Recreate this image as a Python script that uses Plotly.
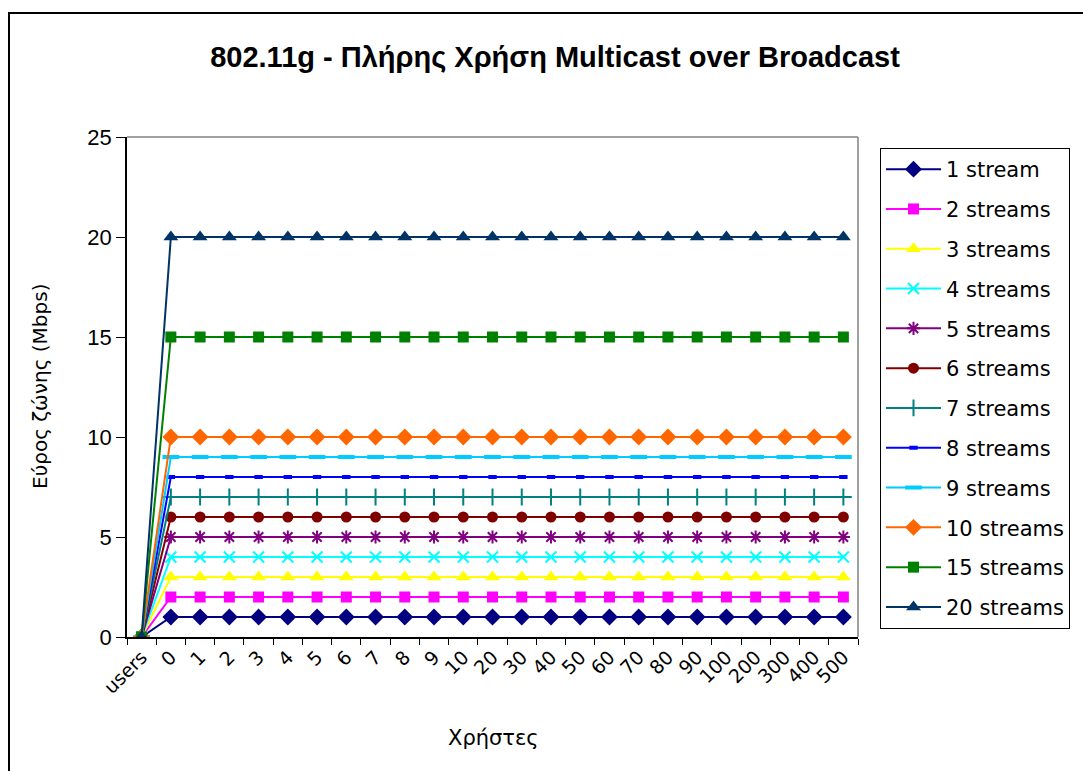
import plotly.graph_objects as go

# Category labels along the x axis (number of users)
categories = ["users", "0", "1", "2", "3", "4", "5", "6", "7", "8", "9", "10",
              "20", "30", "40", "50", "60", "70", "80", "90", "100",
              "200", "300", "400", "500"]

# Bandwidth (Mbps) per series: 0 at the "users" origin, then constant per stream count
series_names = ["1 stream", "2 streams", "3 streams", "4 streams", "5 streams",
                "6 streams", "7 streams", "8 streams", "9 streams", "10 streams",
                "15 streams", "20 streams"]
series_values = {
    "1 stream":   [0] + [1] * 24,
    "2 streams":  [0] + [2] * 24,
    "3 streams":  [0] + [3] * 24,
    "4 streams":  [0] + [4] * 24,
    "5 streams":  [0] + [5] * 24,
    "6 streams":  [0] + [6] * 24,
    "7 streams":  [0] + [7] * 24,
    "8 streams":  [0] + [8] * 24,
    "9 streams":  [0] + [9] * 24,
    "10 streams": [0] + [10] * 24,
    "15 streams": [0] + [15] * 24,
    "20 streams": [0] + [20] * 24,
}

y_ticks = [0, 5, 10, 15, 20, 25]

# Excel-style line colours and marker symbols
styles = {
    "1 stream":   dict(color="#000080", symbol="diamond", size=13),
    "2 streams":  dict(color="#FF00FF", symbol="square", size=11),
    "3 streams":  dict(color="#FFFF00", symbol="triangle-up", size=13),
    "4 streams":  dict(color="#00FFFF", symbol="x-thin-open", size=11),
    "5 streams":  dict(color="#800080", symbol="asterisk-open", size=11),
    "6 streams":  dict(color="#800000", symbol="circle", size=11),
    "7 streams":  dict(color="#008080", symbol="cross-thin-open", size=12),
    "8 streams":  dict(color="#0000FF", symbol="line-ew-open", size=6),
    "9 streams":  dict(color="#00CCFF", symbol="line-ew-open", size=12),
    "10 streams": dict(color="#FF6600", symbol="diamond", size=13),
    "15 streams": dict(color="#008000", symbol="square", size=11),
    "20 streams": dict(color="#003366", symbol="triangle-up", size=13),
}

fig = go.Figure()
for name in series_names:
    st = styles[name]
    open_sym = st["symbol"].endswith("open")
    if not open_sym:
        mline = 0
    elif st["symbol"] == "line-ew-open":
        mline = 4
    else:
        mline = 2
    fig.add_trace(go.Scatter(
        x=categories,
        y=series_values[name],
        name=name,
        legendgroup=name,
        mode="lines+markers",
        line=dict(color=st["color"], width=2),
        marker=dict(symbol=st["symbol"], size=st["size"], color=st["color"],
                    line=dict(color=st["color"], width=mline)),
    ))

W, H = 1083, 771
L, R, T, B = 127, 858, 137, 637
pw, ph = R - L, B - T

def px_x(x):
    return (x - L) / pw

def px_y(y):
    return (B - y) / ph

fig.update_layout(
    width=W, height=H,
    margin=dict(l=L, r=W - R, t=T, b=H - B),
    paper_bgcolor="white",
    plot_bgcolor="white",
    showlegend=True,
    title=dict(
        text="<b>802.11g - Πλήρης Χρήση Multicast over Broadcast</b>",
        font=dict(family="Liberation Sans, Arial", size=29, color="black"),
        x=555 / W, xanchor="center", xref="container",
        y=1 - 57 / H, yanchor="middle", yref="container",
    ),
    legend=dict(
        x=px_x(880), xanchor="left",
        y=px_y(148), yanchor="top",
        bordercolor="black", borderwidth=1,
        bgcolor="white",
        font=dict(family="DejaVu Sans, Verdana", size=21, color="black"),
        tracegroupgap=9.5,
        itemwidth=55,
    ),
    xaxis=dict(
        type="category",
        categoryorder="array", categoryarray=categories,
        range=[-0.5, len(categories) - 0.5],
        tickangle=-45,
        tickson="boundaries",
        ticks="outside", ticklen=6, tickcolor="black",
        showline=True, linecolor="black", linewidth=1.5,
        showgrid=False, zeroline=False,
        tickfont=dict(family="DejaVu Sans, Verdana", size=19, color="black"),
    ),
    yaxis=dict(
        range=[0, 25],
        tickvals=y_ticks,
        ticks="outside", ticklen=9, tickcolor="black",
        showline=True, linecolor="black", linewidth=1.5,
        showgrid=False, zeroline=False,
        tickfont=dict(family="Liberation Sans, Arial", size=22, color="black"),
    ),
    annotations=[
        dict(text="Εύρος ζώνης (Mbps)", textangle=-90,
             xref="paper", yref="paper", x=px_x(40), y=px_y(387),
             xanchor="center", yanchor="middle", showarrow=False,
             font=dict(family="DejaVu Sans, Verdana", size=20, color="black")),
        dict(text="Χρήστες",
             xref="paper", yref="paper", x=px_x(493), y=px_y(738),
             xanchor="center", yanchor="middle", showarrow=False,
             font=dict(family="DejaVu Sans, Verdana", size=21, color="black")),
    ],
    shapes=[
        # gray frame on top and right of plot area
        dict(type="line", xref="paper", yref="paper", x0=0, x1=1, y0=1, y1=1,
             line=dict(color="#808080", width=1.5)),
        dict(type="line", xref="paper", yref="paper", x0=1, x1=1, y0=0, y1=1,
             line=dict(color="#808080", width=1.5)),
        # outer chart border
        dict(type="rect", xref="paper", yref="paper",
             x0=px_x(9), x1=px_x(1100), y0=px_y(790), y1=px_y(13),
             line=dict(color="black", width=2), layer="below"),
    ],
)

fig.write_html("out.html")
